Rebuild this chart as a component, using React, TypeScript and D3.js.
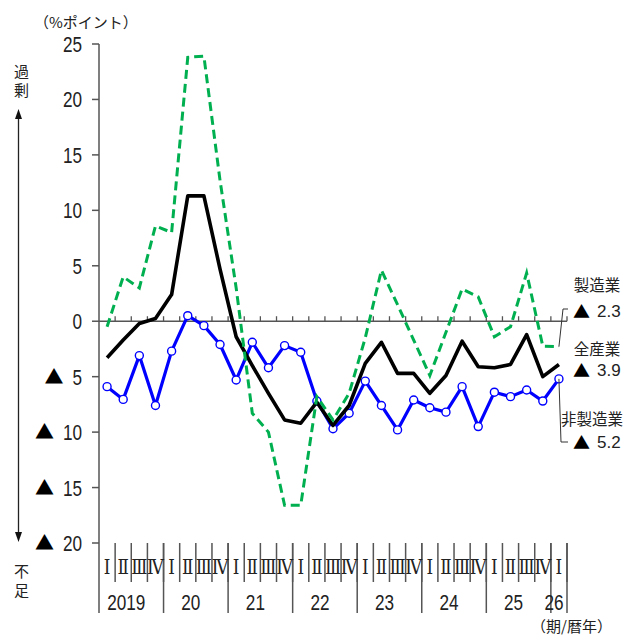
import React from 'react';
import * as d3 from 'd3';

const categories = [
  '2019-Ⅰ','2019-Ⅱ','2019-Ⅲ','2019-Ⅳ',
  '2020-Ⅰ','2020-Ⅱ','2020-Ⅲ','2020-Ⅳ',
  '2021-Ⅰ','2021-Ⅱ','2021-Ⅲ','2021-Ⅳ',
  '2022-Ⅰ','2022-Ⅱ','2022-Ⅲ','2022-Ⅳ',
  '2023-Ⅰ','2023-Ⅱ','2023-Ⅲ','2023-Ⅳ',
  '2024-Ⅰ','2024-Ⅱ','2024-Ⅲ','2024-Ⅳ',
  '2025-Ⅰ','2025-Ⅱ','2025-Ⅲ','2025-Ⅳ',
  '2026-Ⅰ',
];
const yearKeys = ['2019','2020','2021','2022','2023','2024','2025','2026'];
const yearLabels = ['2019','20','21','22','23','24','25','26'];

// 全産業
const allIndustries = [-3.3,-1.7,-0.2,0.25,2.4,11.3,11.3,4.7,-1.4,-4.0,-6.5,-8.9,-9.2,-7.3,-9.4,-7.6,-3.8,-1.9,-4.7,-4.7,-6.5,-4.9,-1.8,-4.1,-4.2,-3.9,-1.2,-5.0,-3.9];
// 製造業
const manufacturing = [-0.5,4.0,3.0,8.6,8.0,23.8,23.9,12.7,3.0,-8.3,-10.0,-16.6,-16.6,-6.8,-8.9,-6.5,-1.5,4.6,1.5,-1.7,-4.9,-1.0,2.9,2.2,-1.4,-0.5,4.35,-2.25,-2.3];
// 非製造業
const nonManufacturing = [-5.9,-7.05,-3.1,-7.6,-2.7,0.5,-0.4,-2.1,-5.3,-1.9,-4.2,-2.2,-2.8,-7.2,-9.7,-8.3,-5.4,-7.6,-9.8,-7.1,-7.8,-8.2,-5.9,-9.5,-6.4,-6.8,-6.2,-7.2,-5.2];

const yTicks = [25,20,15,10,5,0,-5,-10,-15,-20];

const endLabels = [
  { name: '製造業', value: '2.3' },
  { name: '全産業', value: '3.9' },
  { name: '非製造業', value: '5.2' },
];

const NUM_FONT = "'Liberation Sans', Arial, sans-serif";
const JP_FONT = "'Noto Sans CJK JP', 'Noto Sans', sans-serif";
const TEXT = '#222';
const AXIS = '#555';

export default function App() {
  const left = 99, right = 567, top = 44, bottom = 543;
  const x = d3.scaleBand<string>().domain(categories).range([left, right]);
  const y = d3.scaleLinear().domain([-20, 25]).range([bottom, top]);
  const cx = (c: string) => (x(c) as number) + x.bandwidth() / 2;

  const line = d3.line<number>()
    .x((_, i) => cx(categories[i]))
    .y(d => y(d));

  const step = x.bandwidth();
  const boundaries = categories.map((c) => (x(c) as number) + step);
  const yearStart = (yk: string) => {
    const idx = categories.findIndex(c => c.startsWith(yk));
    return x(categories[idx]) as number;
  };
  const yearEnd = (yk: string) => {
    const list = categories.filter(c => c.startsWith(yk));
    return (x(list[list.length - 1]) as number) + step;
  };

  const digitW = 22 * 0.556 * 0.78;
  const lastC = categories[categories.length - 1];
  const lastX = cx(lastC);

  return (
    <svg width={626} height={635} style={{ position: 'absolute', left: 0, top: 0, background: '#fff' }}>
      {/* unit label */}
      <text x={34} y={28} fontFamily={JP_FONT} fontSize={15} fill={TEXT}>（%ポイント）</text>

      {/* 過剰 / 不足 */}
      <text x={21.5} y={77} fontFamily={JP_FONT} fontSize={15} fill={TEXT} textAnchor="middle">過</text>
      <text x={21.5} y={96} fontFamily={JP_FONT} fontSize={15} fill={TEXT} textAnchor="middle">剰</text>
      <text x={21.5} y={577} fontFamily={JP_FONT} fontSize={15} fill={TEXT} textAnchor="middle">不</text>
      <text x={21.5} y={596} fontFamily={JP_FONT} fontSize={15} fill={TEXT} textAnchor="middle">足</text>
      <line x1={18.5} x2={18.5} y1={118} y2={533} stroke="#222" strokeWidth={1.3} />
      <path d="M18.5,109 L15,119 L22,119 Z" fill="#111" />
      <path d="M18.5,542 L15,532 L22,532 Z" fill="#111" />

      {/* y axis */}
      <line x1={left} x2={left} y1={top} y2={613} stroke={AXIS} strokeWidth={1.5} />
      {yTicks.map(v => {
        const n = String(Math.abs(v));
        return (
          <g key={v}>
            <line x1={left - 7} x2={left} y1={y(v)} y2={y(v)} stroke={AXIS} strokeWidth={1.5} />
            <g transform={`translate(82,${y(v) + 8}) scale(0.78,1)`}>
              <text x={0} y={0} textAnchor="end" fontFamily={NUM_FONT} fontSize={22} fill={TEXT}>{n}</text>
            </g>
            {v < 0 && (
              <text x={82 - n.length * digitW - 9} y={y(v) + 7} textAnchor="end" fontFamily={JP_FONT} fontSize={19} fill="#000">▲</text>
            )}
          </g>
        );
      })}

      {/* zero line with ticks */}
      <line x1={left} x2={right} y1={y(0)} y2={y(0)} stroke={AXIS} strokeWidth={1.5} />
      {boundaries.map((b, i) => (
        <line key={i} x1={b} x2={b} y1={y(0) - 5} y2={y(0)} stroke={AXIS} strokeWidth={1.3} />
      ))}

      {/* x axis labels */}
      {boundaries.map((b, i) => (
        <line key={'s' + i} x1={b} x2={b} y1={bottom} y2={582} stroke={AXIS} strokeWidth={1.5} />
      ))}
      {yearKeys.map(yk => (
        <line key={'y' + yk} x1={yearEnd(yk)} x2={yearEnd(yk)} y1={bottom} y2={613} stroke={AXIS} strokeWidth={1.5} />
      ))}
      {categories.map(c => {
        const q = c.split('-')[1];
        return (
          <g key={'q' + c} transform={`translate(${cx(c)},574) scale(0.8,1)`}>
            <text x={0} y={0} textAnchor="middle" fontFamily="'DejaVu Serif', 'Liberation Serif', serif" fontSize={21} fill={TEXT}>{q}</text>
          </g>
        );
      })}
      {yearKeys.map((yk, i) => {
        const mid = (yearStart(yk) + yearEnd(yk)) / 2 - 5;
        return (
          <g key={'yl' + yk} transform={`translate(${mid},610) scale(0.78,1)`}>
            <text x={0} y={0} textAnchor="middle" fontFamily={NUM_FONT} fontSize={22} fill={TEXT}>{yearLabels[i]}</text>
          </g>
        );
      })}
      <text x={612} y={632} textAnchor="end" fontFamily={JP_FONT} fontSize={15} fill={TEXT}>（期/暦年）</text>

      {/* series */}
      <path d={line(nonManufacturing) || ''} fill="none" stroke="#0000ff" strokeWidth={3.2} strokeLinejoin="round" />
      {nonManufacturing.map((v, i) => (
        <circle key={'c' + i} cx={cx(categories[i])} cy={y(v)} r={4} fill="#fff" stroke="#0000ff" strokeWidth={1.4} />
      ))}
      <path d={line(allIndustries) || ''} fill="none" stroke="#000" strokeWidth={3.6} strokeLinejoin="round" />
      <path d={line(manufacturing) || ''} fill="none" stroke="#00b050" strokeWidth={3} strokeDasharray="9,5" />

      {/* leader lines */}
      <path d={`M${lastX},${y(manufacturing[manufacturing.length - 1])} L563,309 L568,309`} fill="none" stroke="#333" strokeWidth={1} />
      <path d={`M${lastX},${y(nonManufacturing[nonManufacturing.length - 1])} L561,442 L568,442`} fill="none" stroke="#333" strokeWidth={1} />

      {/* end labels */}
      <text x={597} y={291} textAnchor="middle" fontFamily={JP_FONT} fontSize={15.5} fill={TEXT}>{endLabels[0].name}</text>
      <text x={573} y={318} fontFamily={JP_FONT} fontSize={17} fill="#000">▲</text>
      <text x={597} y={317} fontFamily={NUM_FONT} fontSize={17} fill={TEXT}>{endLabels[0].value}</text>
      <text x={597} y={355} textAnchor="middle" fontFamily={JP_FONT} fontSize={15.5} fill={TEXT}>{endLabels[1].name}</text>
      <text x={573} y={377} fontFamily={JP_FONT} fontSize={17} fill="#000">▲</text>
      <text x={597} y={376} fontFamily={NUM_FONT} fontSize={17} fill={TEXT}>{endLabels[1].value}</text>
      <text x={592} y={425} textAnchor="middle" fontFamily={JP_FONT} fontSize={15.5} fill={TEXT}>{endLabels[2].name}</text>
      <text x={573} y={449} fontFamily={JP_FONT} fontSize={17} fill="#000">▲</text>
      <text x={597} y={448} fontFamily={NUM_FONT} fontSize={17} fill={TEXT}>{endLabels[2].value}</text>
    </svg>
  );
}
